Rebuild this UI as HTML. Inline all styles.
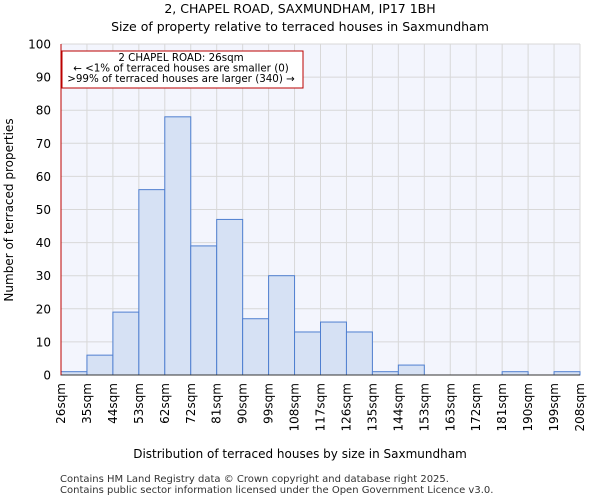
<!DOCTYPE html>
<html><head><meta charset="utf-8"><style>
body{margin:0;background:#fff;font-family:"DejaVu Sans","Liberation Sans",sans-serif;}
</style></head><body>
<svg id="chart" width="600" height="500" xmlns="http://www.w3.org/2000/svg" font-family="DejaVu Sans, Liberation Sans, sans-serif">
<text x="300" y="13" font-size="12.5" text-anchor="middle">2, CHAPEL ROAD, SAXMUNDHAM, IP17 1BH</text>
<text x="300" y="31" font-size="12.5" text-anchor="middle">Size of property relative to terraced houses in Saxmundham</text>
<g id="plot"></g>
<text x="300" y="458" font-size="12" text-anchor="middle">Distribution of terraced houses by size in Saxmundham</text>
<text x="13" y="210" font-size="12" text-anchor="middle" transform="rotate(-90 13 210)">Number of terraced properties</text>
<text x="60" y="482" font-size="10" fill="#333">Contains HM Land Registry data © Crown copyright and database right 2025.</text>
<text x="60" y="493" font-size="10" fill="#333">Contains public sector information licensed under the Open Government Licence v3.0.</text>
</svg>
<script>
const binLabels=["26sqm","35sqm","44sqm","53sqm","62sqm","72sqm","81sqm","90sqm","99sqm","108sqm","117sqm","126sqm","135sqm","144sqm","153sqm","163sqm","172sqm","181sqm","190sqm","199sqm","208sqm"];
const counts=[1,6,19,56,78,39,47,17,30,13,16,13,1,3,0,0,0,1,0,1];
const yTicks=[0,10,20,30,40,50,60,70,80,90,100];
const NS="http://www.w3.org/2000/svg";
const L=61,R=580,T=44,B=375,yMax=100;
const bw=(R-L)/counts.length;
const xs=i=>L+i*bw;
const ys=v=>B-(v/yMax)*(B-T);
const g=document.getElementById('plot');
function mk(t,a){const e=document.createElementNS(NS,t);for(const k in a)e.setAttribute(k,a[k]);g.appendChild(e);return e;}
let bg=mk('rect',{x:L,y:T,width:R-L,height:B-T,fill:'#f3f5fd'});


yTicks.forEach(v=>{
 const l=mk('line',{x1:L,x2:R,y1:ys(v),y2:ys(v),stroke:'#d8d8d8','stroke-width':1});
 
 
 const t=mk('text',{x:L-10,y:ys(v)+4.5,'font-size':12,'text-anchor':'end'});
 t.textContent=v;
 
 
});
binLabels.forEach((s,i)=>{
 const l=mk('line',{x1:xs(i),x2:xs(i),y1:T,y2:B,stroke:'#d8d8d8','stroke-width':1});
 
 
 const x=xs(i)+4,y=B+8;
 const t=mk('text',{x:x,y:y,'font-size':12,'text-anchor':'end',transform:`rotate(-90 ${x} ${y})`});
 t.textContent=s;
 
 
});
counts.forEach((c,i)=>{
 const r=mk('rect',{x:xs(i),y:ys(c),width:bw,height:B-ys(c),fill:'#d6e1f4',stroke:'#4f7fd0','stroke-width':1});
 
 
});
let ax=mk('path',{d:`M${L} ${T}V${B}H${R}`,fill:'none',stroke:'#333','stroke-width':1});


let ml=mk('line',{x1:L,x2:L,y1:T,y2:B,stroke:'#bb0000','stroke-width':1});


let box=mk('rect',{x:62,y:51,width:241,height:37,fill:'#fff',stroke:'#bb0000','stroke-width':1});


[["2 CHAPEL ROAD: 26sqm",61],["← <1% of terraced houses are smaller (0)",71.5],[">99% of terraced houses are larger (340) →",82]].forEach(([s,y])=>{
 const t=mk('text',{x:181,y:y,'font-size':10.3,'text-anchor':'middle'});
 t.textContent=s;
 
 
});
</script>
</body></html>
